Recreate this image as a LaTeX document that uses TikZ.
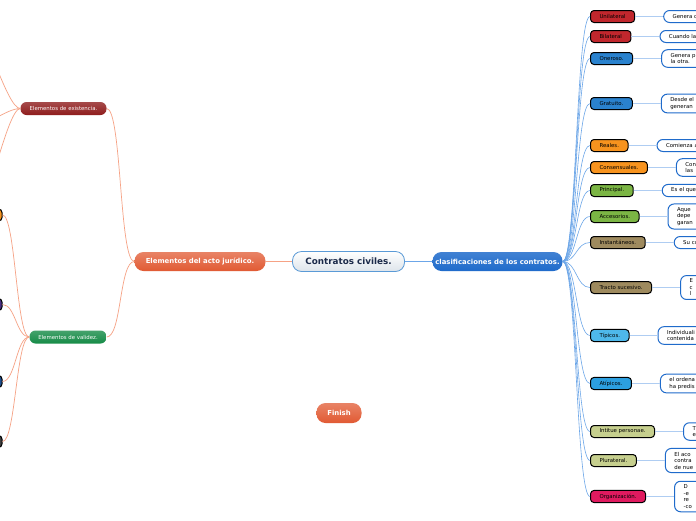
\documentclass[tikz,border=0pt]{standalone}
\usepackage{fontspec}
\setmainfont{DejaVu Sans}
\usetikzlibrary{positioning}

\definecolor{azulN}{HTML}{1F6BCB}
\definecolor{lineaD}{HTML}{6CA6E8}
\definecolor{lineaN}{HTML}{AFCDF2}
\definecolor{salmon}{HTML}{F6A285}
\definecolor{naranjaR}{HTML}{E15A33}
\definecolor{rojoO}{HTML}{8F1D1D}
\definecolor{verdeV}{HTML}{168B47}
\definecolor{bordeC}{HTML}{5A9AD6}
\definecolor{grisC}{HTML}{DDE4EA}
\definecolor{textoC}{HTML}{1B2A4A}
\definecolor{rojoT}{HTML}{C1272D}
\definecolor{azulT}{HTML}{2A82CE}
\definecolor{naranjaT}{HTML}{F7931E}
\definecolor{verdeT}{HTML}{7BB544}
\definecolor{cafeT}{HTML}{9E8A5E}
\definecolor{celesteT}{HTML}{4EB8EA}
\definecolor{azulC}{HTML}{2C9FE0}
\definecolor{olivaT}{HTML}{C6CF8E}
\definecolor{rosaT}{HTML}{E01A5F}
\definecolor{moradoT}{HTML}{4B2E83}
\definecolor{marinoT}{HTML}{1F4F8F}

\begin{document}
\begin{tikzpicture}[x=1pt,y=-1pt,font=\fontsize{5.4}{6.5}\selectfont,
 tema/.style={rounded corners=9pt,minimum height=19pt,inner xsep=2pt,text=white,font=\bfseries\fontsize{6.9}{8}\selectfont},
 rama/.style={rounded corners=6pt,minimum height=13pt,inner xsep=2pt,text=white},
 tipo/.style={draw=black,line width=1pt,rounded corners=3.5pt,minimum height=12pt,inner xsep=9pt,anchor=west},
 nota/.style={draw=azulN,line width=1pt,fill=white,rounded corners=6pt,text width=70pt,align=left,
   inner xsep=9pt,inner ysep=3.5pt,minimum height=12pt,right=28pt of #1},
 lazoI/.style={draw=salmon,line width=.7pt},
 lazoD/.style={draw=lineaD,line width=.6pt},
 lazoN/.style={draw=lineaN,line width=1.4pt}]
 \useasboundingbox (0,0) rectangle (696,520);
 \clip (0,0) rectangle (696,520);
 \fill[white] (0,0) rectangle (696,520);

 % centro
 \node[tema,draw=bordeC,line width=.8pt,top color=white,bottom color=grisC,text=textoC,minimum width=112pt,
   minimum height=20pt,font=\bfseries\fontsize{8.8}{10}\selectfont] (contratos) at (348.5,261.5) {Contratos civiles.};
 \node[tema,top color=naranjaR!75!white,bottom color=naranjaR,minimum width=131pt] (acto) at (200,261.5) {Elementos del acto jurídico.};
 \node[tema,top color=azulN!85!white,bottom color=azulN,minimum width=130pt] (clasif) at (497.5,261.5) {clasificaciones de los contratos.};
 \node[tema,top color=naranjaR!75!white,bottom color=naranjaR,minimum width=45pt,minimum height=20pt] (finish) at (339,413) {Finish};

 % lado izquierdo
 \node[rama,top color=rojoO!80!white,bottom color=rojoO,minimum width=86pt] (existencia) at (63.5,108.5) {Elementos de existencia.};
 \node[rama,top color=verdeV!80!white,bottom color=verdeV,minimum width=77pt] (validez) at (68,337) {Elementos de validez.};
 \coordinate (exA) at (-30,20);
 \coordinate (exB) at (-30,128);
 \coordinate (exC) at (-30,228);
 \node[tipo,fill=naranjaT,anchor=east,minimum width=30pt] (valA) at (2.5,215) {};
 \node[tipo,fill=moradoT,anchor=east,minimum width=30pt] (valB) at (2.5,304.5) {};
 \node[tipo,fill=marinoT,anchor=east,minimum width=30pt] (valC) at (2.5,381.5) {};
 \node[tipo,fill=black!75,anchor=east,minimum width=30pt] (valD) at (2.5,441.5) {};

 % clasificaciones
 \node[tipo,fill=rojoT] (uni) at (590,16.5) {Unilateral};
 \node[tipo,fill=rojoT] (bil) at (590,36.5) {Bilateral};
 \node[tipo,fill=azulT] (one) at (590,58.5) {Oneroso.};
 \node[tipo,fill=azulT] (gra) at (590,103.5) {Gratuito.};
 \node[tipo,fill=naranjaT] (rea) at (590,145.5) {Reales.};
 \node[tipo,fill=naranjaT] (con) at (590,167.5) {Consensuales.};
 \node[tipo,fill=verdeT] (pri) at (590,190.5) {Principal.};
 \node[tipo,fill=verdeT] (acc) at (590,216.5) {Accesorios.};
 \node[tipo,fill=cafeT] (ins) at (590,242.5) {Instantáneos.};
 \node[tipo,fill=cafeT] (tra) at (590,287.5) {Tracto sucesivo.};
 \node[tipo,fill=celesteT] (tip) at (590,335.5) {Típicos.};
 \node[tipo,fill=azulC] (ati) at (590,383.5) {Atípicos.};
 \node[tipo,fill=olivaT] (int) at (590,431.5) {Intitue personae.};
 \node[tipo,fill=olivaT] (plu) at (590,460.5) {Plurateral.};
 \node[tipo,fill=rosaT] (org) at (590,496.5) {Organización.};

 % notas
 \node[nota=uni] (uni-n) {Genera o};
 \node[nota=bil] (bil-n) {Cuando las};
 \node[nota=one] (one-n) {Genera p\\la otra.};
 \node[nota=gra] (gra-n) {Desde el\\generan};
 \node[nota=rea] (rea-n) {Comienza a};
 \node[nota=con] (con-n) {Con\\las};
 \node[nota=pri] (pri-n) {Es el que};
 \node[nota=acc] (acc-n) {Aque\\depe\\garan};
 \node[nota=ins] (ins-n) {Su cu};
 \node[nota=tra] (tra-n) {E\\c\\l};
 \node[nota=tip] (tip-n) {Individuali\\contenida};
 \node[nota=ati] (ati-n) {el ordena\\ha predis};
 \node[nota=int] (int-n) {T\\e};
 \node[nota=plu] (plu-n) {El aco\\contra\\de nue};
 \node[nota=org] (org-n) {D\\-e\\re\\-co};

 % conectores
 \draw[lazoI] (contratos) -- (acto);
 \draw[lazoD] (contratos) -- (clasif);
 \foreach \n in {existencia,validez}
  \draw[lazoI] (acto.west) .. controls +(-15,0) and +(15,0) .. (\n.east);
 \foreach \n in {exA,exB,exC}
  \draw[lazoI] (existencia.west) .. controls +(-14,0) and +(14,0) .. (\n);
 \foreach \n in {valA,valB,valC,valD}
  \draw[lazoI] (validez.west) .. controls +(-13,0) and +(13,0) .. (\n.east);
 \foreach \n in {uni,bil,one,gra,rea,con,pri,acc,ins,tra,tip,ati,int,plu,org}{
  \draw[lazoD] (clasif.east) .. controls +(14,0) and +(-14,0) .. (\n.west);
  \draw[lazoN] (\n.east) -- (\n-n.west);
 }
\end{tikzpicture}
\end{document}
